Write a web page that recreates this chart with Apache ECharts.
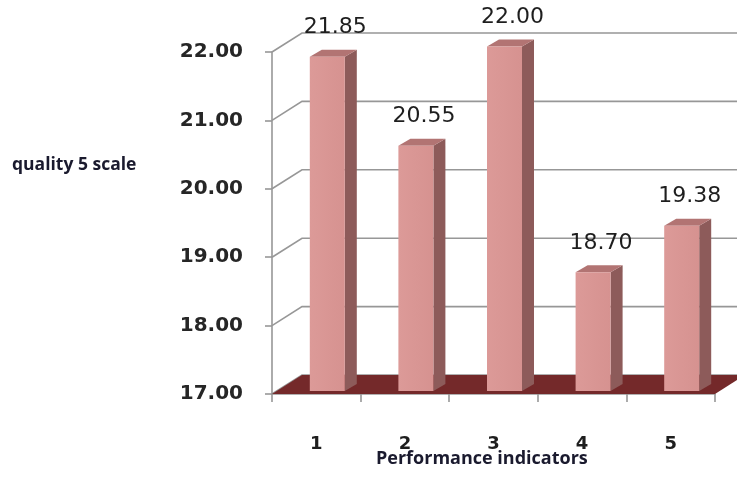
<!DOCTYPE html>
<html>
<head>
<meta charset="utf-8">
<script src="https://cdn.jsdelivr.net/npm/echarts@6/dist/echarts.min.js"></script>
<style>
  html, body { margin: 0; padding: 0; background: #fff; }
  #main { width: 737px; height: 481px; }
</style>
</head>
<body>
<div id="main"></div>
<script>
const categories = ["1", "2", "3", "4", "5"];
const scores = [21.85, 20.55, 22.00, 18.70, 19.38];
const yTicks = [17, 18, 19, 20, 21, 22];
const yName = "quality 5 scale";
const xName = "Performance indicators";

const chart = echarts.init(document.getElementById("main"), null, { renderer: "canvas" });

// pseudo 3D: back wall offset, bar depth
const WALL = { dx: 30, dy: -19 };
const BAR = { w: 35, dx: 12, dy: -7, shiftX: 11, shiftY: -5.5 };
const GRID_COLOR = "#979797";

// back wall gridlines + floor
function renderWall(params, api) {
  const cs = params.coordSys;
  const v = api.value(0);
  const y = api.coord([0, v])[1];
  const x0 = cs.x;
  const children = [{
    type: "polyline",
    shape: { points: [[x0, y], [x0 + WALL.dx, y + WALL.dy], [api.getWidth(), y + WALL.dy]] },
    style: { stroke: GRID_COLOR, lineWidth: 1.6, fill: null }
  }];
  if (v === yTicks[0]) {
    const x1 = cs.x + cs.width;
    children.push({
      type: "polygon",
      shape: { points: [[x0, y], [x1, y], [x1 + WALL.dx, y + WALL.dy], [x0 + WALL.dx, y + WALL.dy]] },
      style: { fill: "#74292a" }
    });
  }
  return { type: "group", children };
}

function renderBar(params, api) {
  const i = api.value(0);
  const v = api.value(1);
  const top = api.coord([i, v]);
  const base = api.coord([i, yTicks[0]]);
  const fx = top[0] + BAR.shiftX - BAR.w / 2;
  const fy = top[1] + BAR.shiftY;
  const by = base[1] - 3;
  const w = BAR.w;
  return {
    type: "group",
    children: [
      {
        type: "polygon",
        shape: { points: [[fx + w, fy], [fx + w + BAR.dx, fy + BAR.dy], [fx + w + BAR.dx, by + BAR.dy], [fx + w, by]] },
        style: { fill: "#8d5b5a" }
      },
      {
        type: "polygon",
        shape: { points: [[fx, fy], [fx + BAR.dx, fy + BAR.dy], [fx + w + BAR.dx, fy + BAR.dy], [fx + w, fy]] },
        style: { fill: "#b27473" }
      },
      {
        type: "rect",
        shape: { x: fx, y: fy, width: w, height: by - fy },
        style: {
          fill: new echarts.graphic.LinearGradient(0, 0, 1, 0, [
            { offset: 0, color: "#dc9a98" }, { offset: 1, color: "#d69290" }
          ])
        }
      },
      {
        type: "text",
        style: {
          text: v.toFixed(2), x: fx + w / 2 + 8, y: fy - 29,
          align: "center", verticalAlign: "middle",
          fill: "#1e1e1e", font: "normal 22px 'DejaVu Sans'"
        }
      }
    ]
  };
}

chart.setOption({
  backgroundColor: "#fff",
  animation: false,
  grid: { left: 272, right: 22, top: 52, bottom: 87, containLabel: false },
  xAxis: {
    type: "category", data: categories,
    axisLine: { lineStyle: { color: GRID_COLOR, width: 1.6 } },
    axisTick: { show: true, length: 8, lineStyle: { color: GRID_COLOR, width: 1.6 } },
    axisLabel: { color: "#1e1e1e", fontFamily: "DejaVu Sans", fontWeight: "bold", fontSize: 18, margin: 41 },
    splitLine: { show: false }
  },
  yAxis: {
    type: "value", min: 17, max: 22, interval: 1,
    axisLine: { show: true, lineStyle: { color: GRID_COLOR, width: 1.6 } },
    axisTick: { show: true, length: 7, lineStyle: { color: GRID_COLOR, width: 1.6 } },
    axisLabel: {
      color: "#262626", fontFamily: "DejaVu Sans", fontWeight: "bold", fontSize: 20, margin: 29,
      padding: [4, 0, 0, 0],
      formatter: v => v.toFixed(2)
    },
    splitLine: { show: false }
  },
  graphic: [
    { type: "text", left: 12, top: 156,
      style: { text: yName, fill: "#1a1a2e", font: "bold 17.5px 'Open Sans'" } },
    { type: "text", left: 376, top: 450,
      style: { text: xName, fill: "#1a1a2e", font: "bold 18px 'Open Sans'" } }
  ],
  series: [
    {
      type: "custom", clip: false, z: 1,
      renderItem: renderWall,
      data: yTicks.map(v => [v])
    },
    {
      type: "custom", clip: false, z: 3,
      renderItem: renderBar,
      data: scores.map((v, i) => [i, v])
    }
  ]
});
</script>
</body>
</html>
